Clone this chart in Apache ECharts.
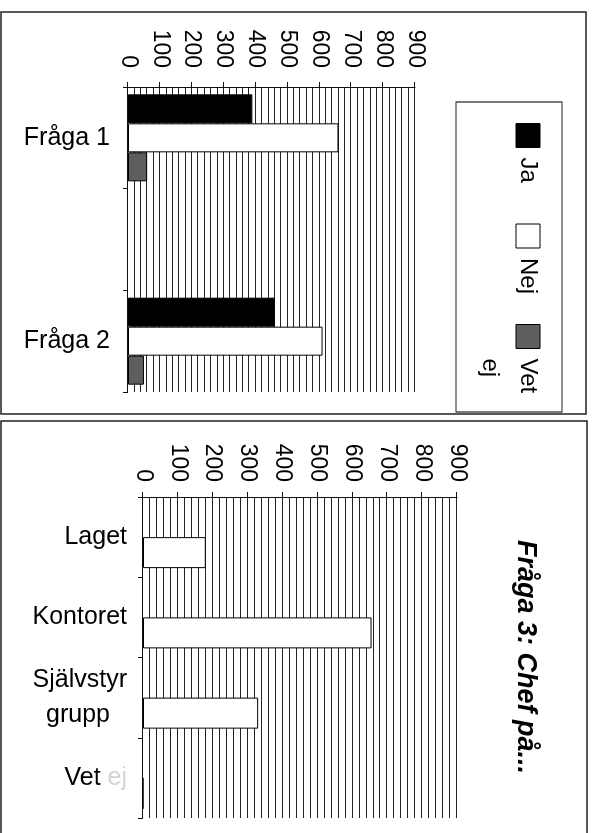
<!DOCTYPE html>
<html><head><meta charset="utf-8">
<script src="https://cdn.jsdelivr.net/npm/echarts@6/dist/echarts.min.js"></script>
<style>
html,body{margin:0;padding:0;background:#fff;overflow:hidden;width:595px;height:833px}
#chart{position:absolute;left:0;top:0;width:833px;height:595px;transform-origin:0 0;transform:translate(595px,0) rotate(90deg);}
</style></head><body><div id="chart"></div>
<script>
// ---- data ----
const questions = ['Fråga 1', '', 'Fråga 2'];
const seriesNames = ['Ja', 'Nej', 'Vet ej'];
const jaValues = [390, null, 460];
const nejValues = [660, null, 610];
const vetEjValues = [60, null, 50];

const chefCategories = ['Laget', 'Kontoret', 'Självstyr grupp', 'Vet ej'];
const chefEmpty = [null, null, null, null];
const chefValues = [180, 655, 330, 0];
const chefTitle = 'Fråga 3: Chef på...';

const valueMin = 0, valueMax = 900, valueStep = 100;

// ---- styling ----
const FONT = '"Liberation Sans", Arial, sans-serif';
const INK = '#111';
const GRID_INK = '#222';

function valueAxis(gridIndex, margin) {
  return {
    type: 'value', gridIndex, min: valueMin, max: valueMax, interval: valueStep,
    axisLine: { show: true, lineStyle: { color: INK, width: 1 } },
    axisTick: { show: true, length: 5, lineStyle: { color: INK, width: 1 } },
    axisLabel: { margin, fontSize: 23, color: '#000', fontFamily: FONT },
    splitLine: { show: true, lineStyle: { color: GRID_INK, width: 1 } },
    minorTick: { show: false, splitNumber: 5 },
    minorSplitLine: { show: true, lineStyle: { color: GRID_INK, width: 1 } }
  };
}

const chart = echarts.init(document.getElementById('chart'), null, { renderer: 'canvas' });
chart.setOption({
  backgroundColor: '#fff',
  animation: false,
  title: {
    text: chefTitle, left: 540, top: 56, padding: 0,
    textStyle: { fontSize: 27, fontWeight: 'bold', fontStyle: 'italic', color: '#000', fontFamily: FONT }
  },
  legend: {
    left: 123, top: 10, padding: 0, orient: 'horizontal', itemGap: 5,
    itemWidth: 24, itemHeight: 24, icon: 'rect',
    itemStyle: { borderColor: '#000', borderWidth: 1 },
    formatter: n => n === 'Vet ej' ? ' \nVet\nej' : n,
    textStyle: { fontSize: 24, color: '#000', fontFamily: FONT, width: 61, lineHeight: 38, padding: [0, 0, 0, 5] },
    data: seriesNames
  },
  grid: [
    { left: 87, top: 180, width: 305, height: 287, outerBoundsMode: 'none' },
    { left: 497, top: 138, width: 321, height: 314, outerBoundsMode: 'none' }
  ],
  xAxis: [
    {
      type: 'category', gridIndex: 0, data: questions,
      axisLine: { lineStyle: { color: INK, width: 1 } },
      axisTick: { show: true, length: 5, lineStyle: { color: INK } },
      axisLabel: { rotate: 90, margin: 18, fontSize: 25, color: '#000', fontFamily: FONT },
      splitLine: { show: false }
    },
    {
      type: 'category', gridIndex: 1, data: chefCategories,
      axisLine: { lineStyle: { color: INK, width: 1 } },
      axisTick: { show: true, length: 5, lineStyle: { color: INK } },
      axisLabel: {
        rotate: 90, margin: 16, fontSize: 25, color: '#000', fontFamily: FONT,
        formatter: v => v === 'Självstyr grupp' ? '{a|Självstyr}\n{b|grupp}'
          : v === 'Vet ej' ? '{a|Vet }{f|ej}' : '{a|' + v + '}',
        rich: {
          a: { fontSize: 25, color: '#000', fontFamily: FONT, lineHeight: 35 },
          b: { fontSize: 25, color: '#000', fontFamily: FONT, lineHeight: 35, padding: [0, 17, 0, 0] },
          f: { fontSize: 25, color: '#d4d4d4', fontFamily: FONT, lineHeight: 35 }
        }
      },
      splitLine: { show: false }
    }
  ],
  yAxis: [valueAxis(0, 19), valueAxis(1, 15)],
  series: [
    { name: seriesNames[0], type: 'bar', xAxisIndex: 0, yAxisIndex: 0, data: jaValues,
      barWidth: 29, barGap: '0%',
      itemStyle: { color: '#000', borderColor: '#000', borderWidth: 1 } },
    { name: seriesNames[1], type: 'bar', xAxisIndex: 0, yAxisIndex: 0, data: nejValues,
      barWidth: 29, barGap: '0%',
      itemStyle: { color: '#fff', borderColor: '#000', borderWidth: 1 } },
    { name: seriesNames[2], type: 'bar', xAxisIndex: 0, yAxisIndex: 0, data: vetEjValues,
      barWidth: 29, barGap: '0%',
      itemStyle: { color: '#5e5e5e', borderColor: '#000', borderWidth: 1 } },
    { name: 'tom', type: 'bar', xAxisIndex: 1, yAxisIndex: 1, data: chefEmpty,
      barWidth: 31, barGap: '0%', itemStyle: { color: '#fff' } },
    { name: 'Chef på', type: 'bar', xAxisIndex: 1, yAxisIndex: 1, data: chefValues,
      barWidth: 31, barGap: '0%',
      itemStyle: { color: '#fff', borderColor: '#000', borderWidth: 1 } }
  ],
  graphic: [
    { type: 'rect', silent: true, z: 100, shape: { x: 12, y: 9, width: 402, height: 585 },
      style: { fill: 'none', stroke: '#222', lineWidth: 1.5 } },
    { type: 'rect', silent: true, z: 100, shape: { x: 421, y: 8, width: 440, height: 586 },
      style: { fill: 'none', stroke: '#222', lineWidth: 1.5 } },
    { type: 'rect', silent: true, z: 100, shape: { x: 102, y: 33, width: 310, height: 106 },
      style: { fill: 'none', stroke: '#222', lineWidth: 1.2 } }
  ]
});
</script></body></html>
